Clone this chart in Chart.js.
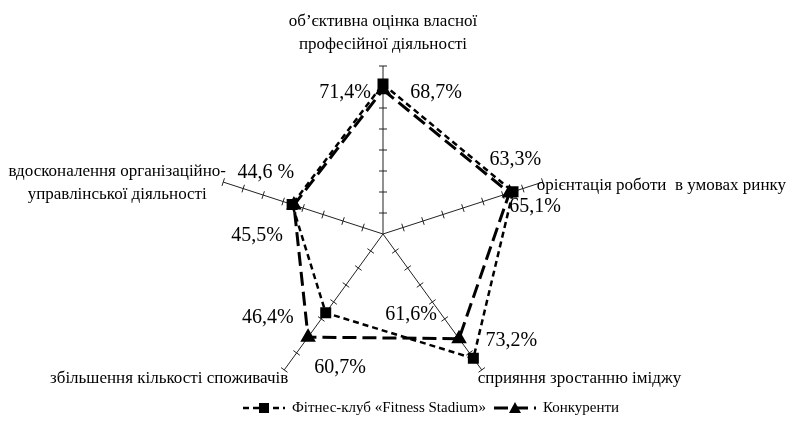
<!DOCTYPE html>
<html>
<head>
<meta charset="utf-8">
<script src="https://cdn.jsdelivr.net/npm/chart.js@4.4.1/dist/chart.umd.min.js"></script>
<style>
  html, body { margin: 0; padding: 0; background: #fff; }
  #wrap { width: 788px; height: 444px; position: relative; }
</style>
</head>
<body>
<div id="wrap"><canvas id="chart"></canvas></div>
<script>
const kategorii = [
  ["об’єктивна оцінка власної", "професійної діяльності"],
  ["орієнтація роботи  в умовах ринку"],
  ["сприяння зростанню іміджу"],
  ["збільшення кількості споживачів"],
  ["вдосконалення організаційно-", "управлінської діяльності"]
];
const fitnesStadium = [71.4, 65.1, 73.2, 46.4, 45.5];
const konkurenty = [68.7, 63.3, 61.6, 60.7, 44.6];
const nazvySerii = ["Фітнес-клуб «Fitness Stadium»", "Конкуренти"];
const shkalaMin = 0;
const shkalaMax = 80;
const krok = 10;

const SERIF = "'Liberation Serif', 'DejaVu Serif', serif";

// zsuv pidpysiv vid tochky (styling only)
const zsuvy = [
  [[-38, 9], [22, 15], [38, -18], [-58, 5], [-35, 31]],
  [[53, 3], [6, -33], [-48, -24], [32, 31], [-28, -32]]
];

function formatVidsotok(v, d, i) {
  const s = v.toFixed(1).replace(".", ",");
  // na livij osi u originali stoit probil pered %
  if (d === 1 && i === 4) return s + " %";
  return s + "%";
}

const radarPlugin = {
  id: "radarExtras",
  beforeDatasetsDraw(chart) {
    const ctx = chart.ctx;
    const r = chart.scales.r;
    ctx.save();
    ctx.strokeStyle = "#222";
    ctx.lineWidth = 1;
    for (let i = 0; i < kategorii.length; i++) {
      for (let v = shkalaMin + krok; v <= shkalaMax; v += krok) {
        const p = r.getPointPositionForValue(i, v);
        const nx = -Math.sin(p.angle), ny = Math.cos(p.angle);
        ctx.beginPath();
        ctx.moveTo(p.x - nx * 4, p.y - ny * 4);
        ctx.lineTo(p.x + nx * 4, p.y + ny * 4);
        ctx.stroke();
      }
    }
    ctx.restore();
  },
  afterDraw(chart) {
    const ctx = chart.ctx;
    const r = chart.scales.r;
    ctx.save();
    ctx.fillStyle = "#000";

    // pidpysy osej
    ctx.font = "17px " + SERIF;
    ctx.textBaseline = "middle";
    const kinci = kategorii.map((_, i) => r.getPointPositionForValue(i, shkalaMax));
    ctx.textAlign = "center";
    ctx.fillText(kategorii[0][0], kinci[0].x, kinci[0].y - 44);
    ctx.fillText(kategorii[0][1], kinci[0].x, kinci[0].y - 21);
    ctx.textAlign = "left";
    ctx.fillText(kategorii[1][0], kinci[1].x - 6, kinci[1].y + 3);
    ctx.fillText(kategorii[2][0], kinci[2].x - 4, kinci[2].y + 9);
    ctx.textAlign = "right";
    ctx.fillText(kategorii[3][0], kinci[3].x + 4, kinci[3].y + 9);
    ctx.textAlign = "center";
    ctx.fillText(kategorii[4][0], kinci[4].x - 106, kinci[4].y - 11);
    ctx.fillText(kategorii[4][1], kinci[4].x - 106, kinci[4].y + 12);

    // pidpysy znachen
    ctx.font = "20px " + SERIF;
    ctx.textAlign = "center";
    chart.data.datasets.forEach((ds, d) => {
      const meta = chart.getDatasetMeta(d);
      meta.data.forEach((pt, i) => {
        const z = zsuvy[d][i];
        ctx.fillText(formatVidsotok(ds.data[i], d, i), pt.x + z[0], pt.y + z[1]);
      });
    });

    // legenda
    const ly = 408;
    ctx.font = "15px " + SERIF;
    ctx.textAlign = "left";
    let x = 243;
    chart.data.datasets.forEach((ds, d) => {
      ctx.strokeStyle = "#000";
      ctx.lineWidth = ds.borderWidth;
      ctx.setLineDash(ds.borderDash);
      ctx.beginPath();
      ctx.moveTo(x, ly);
      ctx.lineTo(x + 42, ly);
      ctx.stroke();
      ctx.setLineDash([]);
      ctx.fillStyle = "#000";
      if (ds.pointStyle === "rect") {
        ctx.fillRect(x + 16, ly - 5, 10, 10);
      } else {
        ctx.beginPath();
        ctx.moveTo(x + 21, ly - 6);
        ctx.lineTo(x + 27, ly + 5);
        ctx.lineTo(x + 15, ly + 5);
        ctx.closePath();
        ctx.fill();
      }
      ctx.fillText(ds.label, x + 49, ly);
      x += 49 + ctx.measureText(ds.label).width + 8;
    });
    ctx.restore();
  }
};

new Chart(document.getElementById("chart"), {
  type: "radar",
  data: {
    labels: kategorii,
    datasets: [
      {
        label: nazvySerii[0],
        data: fitnesStadium,
        borderColor: "#000",
        backgroundColor: "rgba(0,0,0,0)",
        borderWidth: 2.5,
        borderDash: [6, 4],
        pointStyle: "rect",
        pointRadius: 6,
        pointBackgroundColor: "#000",
        pointBorderColor: "#000",
        fill: false
      },
      {
        label: nazvySerii[1],
        data: konkurenty,
        borderColor: "#000",
        backgroundColor: "rgba(0,0,0,0)",
        borderWidth: 3,
        borderDash: [14, 6],
        pointStyle: "triangle",
        pointRadius: 6,
        pointBackgroundColor: "#000",
        pointBorderColor: "#000",
        fill: false
      }
    ]
  },
  options: {
    responsive: true,
    maintainAspectRatio: false,
    animation: false,
    layout: { padding: { top: 66, bottom: 42, left: 215, right: 237 } },
    plugins: {
      legend: { display: false },
      tooltip: { enabled: false }
    },
    elements: { line: { tension: 0 } },
    scales: {
      r: {
        min: shkalaMin,
        max: shkalaMax,
        ticks: { display: false, stepSize: krok },
        grid: { display: false },
        angleLines: { display: true, color: "#222", lineWidth: 1 },
        pointLabels: { display: false }
      }
    }
  },
  plugins: [radarPlugin]
});
</script>
</body>
</html>
